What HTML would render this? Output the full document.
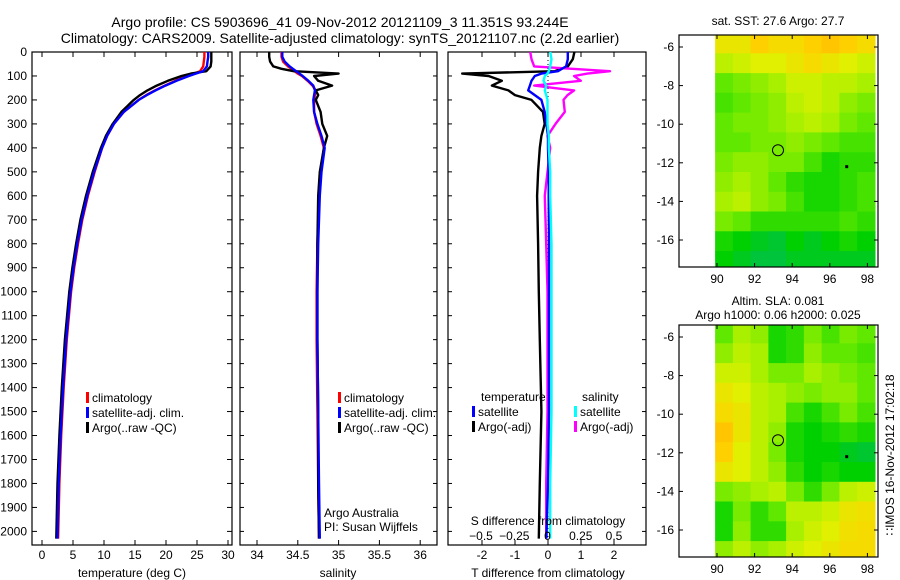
<!DOCTYPE html>
<html><head><meta charset="utf-8"><style>
html,body{margin:0;padding:0;background:#fff}
svg{display:block;font-family:"Liberation Sans",sans-serif}
text{font-size:12px;fill:#000}
</style></head><body>
<svg id="fig" width="900" height="580">
<text x="340" y="27" text-anchor="middle" style="font-size:14px">Argo profile: CS 5903696_41 09-Nov-2012 20121109_3 11.351S 93.244E</text>
<text x="340" y="43" text-anchor="middle" style="font-size:14px">Climatology: CARS2009. Satellite-adjusted climatology: synTS_20121107.nc (2.2d earlier)</text>
<g id="g"></g>
</svg>
<script>
// ---- data ----
const tDepth=[0,20,40,60,80,90,100,120,140,160,180,200,250,300,350,400,500,600,700,800,900,1000,1200,1400,1600,1800,2030];
const tClim=[26.2,26.2,26.1,26,25.5,24.5,23.5,21.5,19.8,18.2,16.8,15.6,13.2,11.6,10.5,9.7,8.5,7.4,6.5,5.8,5.2,4.7,4.0,3.5,3.1,2.8,2.6];
const tSat=[26.8,26.8,26.7,26.6,26,24.8,23.7,21.7,19.9,18.3,16.9,15.6,13.2,11.6,10.5,9.7,8.4,7.3,6.4,5.7,5.1,4.6,3.9,3.4,3.0,2.7,2.5];
const tArgo=[27.3,27.3,27.3,27.2,26.5,24.0,22.5,20.3,18.5,17.0,15.8,14.8,12.8,11.4,10.3,9.5,8.2,7.1,6.2,5.5,4.9,4.4,3.7,3.2,2.8,2.5,2.3];
const sDepth=[0,20,40,60,70,80,90,100,120,140,160,180,200,250,300,350,400,500,600,800,1000,1200,1500,1800,2030];
const sClim=[34.3,34.3,34.32,34.38,34.42,34.46,34.5,34.55,34.62,34.68,34.72,34.71,34.7,34.7,34.73,34.78,34.82,34.78,34.76,34.74,34.73,34.73,34.74,34.75,34.76];
const sSat=[34.31,34.31,34.34,34.4,34.44,34.48,34.52,34.56,34.63,34.69,34.71,34.7,34.69,34.7,34.74,34.79,34.83,34.79,34.77,34.75,34.74,34.74,34.75,34.76,34.77];
const sArgo=[34.15,34.15,34.16,34.2,34.3,34.45,35.0,34.7,34.75,34.92,34.72,34.75,34.72,34.78,34.8,34.86,34.82,34.77,34.75,34.74,34.74,34.74,34.75,34.75,34.76];
const dDepth=[0,30,60,80,90,100,120,140,160,180,200,250,300,350,400,500,600,800,1000,1200,1500,1800,2030];
const dTArgo=[0.8,0.75,0.6,0.2,-2.6,-1.8,-1.4,-1.7,-1.2,-1.0,-0.5,-0.15,-0.1,-0.2,-0.25,-0.3,-0.33,-0.3,-0.28,-0.25,-0.2,-0.25,-0.28];
const dTSat=[0.6,0.6,0.55,0.3,-0.2,-0.4,-0.5,-0.55,-0.6,-0.4,-0.2,-0.1,-0.05,0,0,0.02,0.02,0.03,0.03,0.03,0.03,0,-0.05];
const dSArgo=[-0.13,-0.12,-0.1,0.47,0.3,0.2,0.25,-0.1,0.2,0.15,0.12,0.13,0.06,0.0,0.02,0.0,-0.02,-0.01,0.0,0.0,0.0,-0.01,-0.01];
const dSCyan=[0.02,0.03,0.02,0.01,0.0,-0.02,-0.03,-0.01,-0.02,-0.01,0.0,0.0,0.0,0.01,0.01,0.02,0.02,0.03,0.03,0.03,0.03,0.02,0.02];
const sstGrid=[
[0.75,0.75,0.85,0.8,0.8,0.85,0.88,0.85,0.8],
[0.6,0.65,0.7,0.7,0.75,0.8,0.75,0.7,0.65],
[0.4,0.45,0.5,0.55,0.65,0.65,0.6,0.6,0.55],
[0.35,0.4,0.45,0.5,0.6,0.65,0.6,0.5,0.45],
[0.4,0.45,0.45,0.5,0.55,0.6,0.55,0.45,0.4],
[0.4,0.4,0.45,0.45,0.5,0.45,0.4,0.35,0.35],
[0.45,0.5,0.5,0.45,0.45,0.35,0.25,0.3,0.3],
[0.5,0.55,0.5,0.4,0.3,0.25,0.25,0.3,0.35],
[0.55,0.6,0.5,0.45,0.35,0.25,0.25,0.3,0.35],
[0.45,0.4,0.3,0.3,0.3,0.3,0.3,0.35,0.3],
[0.25,0.2,0.15,0.12,0.2,0.15,0.2,0.25,0.2],
[0.2,0.15,0.1,0.1,0.15,0.15,0.15,0.15,0.15]];
const slaGrid=[
[0.4,0.55,0.5,0.25,0.3,0.45,0.35,0.45,0.4],
[0.5,0.6,0.55,0.25,0.3,0.5,0.4,0.4,0.35],
[0.65,0.65,0.55,0.45,0.45,0.55,0.5,0.45,0.4],
[0.75,0.7,0.6,0.55,0.5,0.45,0.5,0.5,0.4],
[0.8,0.75,0.6,0.55,0.35,0.25,0.35,0.45,0.35],
[0.88,0.75,0.6,0.5,0.25,0.2,0.25,0.3,0.25],
[0.85,0.7,0.6,0.45,0.25,0.2,0.2,0.15,0.12],
[0.75,0.7,0.6,0.5,0.3,0.2,0.25,0.2,0.2],
[0.45,0.5,0.55,0.6,0.45,0.3,0.45,0.6,0.65],
[0.25,0.45,0.3,0.4,0.6,0.6,0.65,0.75,0.78],
[0.25,0.5,0.3,0.3,0.55,0.65,0.7,0.78,0.8],
[0.5,0.6,0.5,0.55,0.65,0.7,0.75,0.8,0.8]];
const depthTicks=[0,100,200,300,400,500,600,700,800,900,1000,1100,1200,1300,1400,1500,1600,1700,1800,1900,2000];
const tTicks=[0,5,10,15,20,25,30];
const sTicks=[34,34.5,35,35.5,36];
const dtTicks=[-2,-1,0,1,2];
const dsTicks=[-0.5,-0.25,0,0.25,0.5];
const lonTicks=[90,92,94,96,98];
const latTicks=[-6,-8,-10,-12,-14,-16];

const NS='http://www.w3.org/2000/svg';
const G=document.getElementById('g');
function mk(tag,a,parent){const e=document.createElementNS(NS,tag);for(const k in a)e.setAttribute(k,a[k]);(parent||G).appendChild(e);return e;}
function txt(x,y,s,anchor,parent){const e=mk('text',{x:x,y:y,'text-anchor':anchor||'start'},parent);e.textContent=s;return e;}
const yD=d=>52+d*0.2397;
const xT=v=>42+v*6.2, xS=v=>257+(v-34)*81.6, xDT=v=>548+v*33, xDS=v=>547.5+v*133;
const TOP=52,BOT=545;
function frame(x0,x1,name){const r=mk('rect',{x:x0,y:TOP,width:x1-x0,height:BOT-TOP,fill:'none',stroke:'#000','stroke-width':1.2});

}
function line(depths,vals,xf,color,name,w){const p=depths.map((d,i)=>xf(vals[i]).toFixed(1)+','+yD(d).toFixed(1)).join(' ');
const e=mk('polyline',{points:p,fill:'none',stroke:color,'stroke-width':w||2.4,'stroke-linejoin':'round'});

}
function xticks(ticks,xf,lblY){ticks.forEach(t=>{const x=xf(t);mk('line',{x1:x,x2:x,y1:BOT,y2:BOT-5,stroke:'#000'});mk('line',{x1:x,x2:x,y1:TOP,y2:TOP+5,stroke:'#000'});
const l=txt(x,lblY,String(t),'middle');

});}
function legendItem(x,y,color,label){mk('rect',{x:x,y:y-10,width:3,height:11,fill:color});const l=txt(x+6,y,label);

}

// Panel 1
frame(32,232,'temperature-panel');
depthTicks.forEach(d=>{const y=yD(d);mk('line',{x1:32,x2:37,y1:y,y2:y,stroke:'#000'});mk('line',{x1:227,x2:232,y1:y,y2:y,stroke:'#000'});
const l=txt(27,y+4,String(d),'end');

});
xticks(tTicks,xT,559);
line(tDepth,tClim,xT,'#f00','temp-climatology-line');
line(tDepth,tArgo,xT,'#000','temp-argo-line');
line(tDepth,tSat,xT,'#00f','temp-satellite-line');
const xl1=txt(132,577,'temperature (deg C)','middle');


legendItem(86,402,'#f00','climatology');legendItem(86,417,'#00f','satellite-adj. clim.');legendItem(86,432,'#000','Argo(..raw -QC)');

// Panel 2
frame(240,437,'salinity-panel');
depthTicks.forEach(d=>{const y=yD(d);mk('line',{x1:240,x2:244,y1:y,y2:y,stroke:'#000'});mk('line',{x1:433,x2:437,y1:y,y2:y,stroke:'#000'});});
xticks(sTicks,xS,559);
line(sDepth,sClim,xS,'#f00','sal-climatology-line');
line(sDepth,sArgo,xS,'#000','sal-argo-line');
line(sDepth,sSat,xS,'#00f','sal-satellite-line');
const xl2=txt(338,577,'salinity','middle');


legendItem(338,402,'#f00','climatology');legendItem(338,417,'#00f','satellite-adj. clim.');legendItem(338,432,'#000','Argo(..raw -QC)');
const a1=txt(324,517,'Argo Australia');
const a2=txt(324,531,'PI: Susan Wijffels');

// Panel 3
frame(448,646,'difference-panel');
depthTicks.forEach(d=>{const y=yD(d);mk('line',{x1:448,x2:452,y1:y,y2:y,stroke:'#000'});mk('line',{x1:642,x2:646,y1:y,y2:y,stroke:'#000'});});
xticks(dtTicks,xDT,559);
mk('line',{x1:548,x2:548,y1:TOP,y2:BOT,stroke:'#000','stroke-dasharray':'1,3'});
line(dDepth,dTArgo,xDT,'#000','tdiff-argo-line');
line(dDepth,dSArgo,xDS,'#f0f','sdiff-argo-line');
line(dDepth,dTSat,xDT,'#00f','tdiff-satellite-line');
line(dDepth,dSCyan,xDS,'#0ff','sdiff-satellite-line');
dsTicks.forEach(t=>{const l=txt(xDS(t),540,t===0?'0':(t<0?'\u2212'+(-t):String(t)),'middle');

});
const sdl=txt(548,525,'S difference from climatology','middle');
const tdl=txt(548,577,'T difference from climatology','middle');
const lt=txt(481,401,'temperature');
const ls=txt(582,401,'salinity');
legendItem(472,416,'#00f','satellite');legendItem(472,431,'#000','Argo(-adj)');
legendItem(574,416,'#0ff','satellite');legendItem(574,431,'#f0f','Argo(-adj)');

// Maps
const stops=[[0,[0,184,120]],[0.2,[0,208,0]],[0.4,[96,232,0]],[0.55,[168,240,0]],[0.7,[224,240,0]],[0.85,[255,208,0]],[1,[255,152,0]]];
function cmap(v){for(let i=1;i<stops.length;i++){if(v<=stops[i][0]){const a=stops[i-1],b=stops[i],f=(v-a[0])/(b[0]-a[0]);return 'rgb('+a[1].map((c,j)=>Math.round(c+(b[1][j]-c)*f)).join(',')+')';}}return 'rgb(255,152,0)';}
function map(top,bot,grid,name,title1,title2){
 const L=679,R=878;const xl=v=>717+(v-90)*18.8;const yl=v=>top+12+(-6-v)*19.3;
 const cg=mk('g',{});
 const lon0=89.9,lon1=98.4,lat0=-5.3,lat1=-17.6;const nc=grid[0].length,nr=grid.length;
 grid.forEach((row,r)=>row.forEach((v,c)=>{const x0=xl(lon0+(lon1-lon0)*c/nc),x1=xl(lon0+(lon1-lon0)*(c+1)/nc);
 const y0=yl(lat0+(lat1-lat0)*r/nr),y1=yl(lat0+(lat1-lat0)*(r+1)/nr);
 const e=mk('rect',{x:x0.toFixed(1),y:Math.max(top,y0).toFixed(1),width:(x1-x0+0.5).toFixed(1),height:(Math.min(bot,y1)-Math.max(top,y0)+0.5).toFixed(1),fill:cmap(v)},cg);
 
 }));
 const fr=mk('rect',{x:L,y:top,width:R-L,height:bot-top,fill:'none',stroke:'#000','stroke-width':1.2});
 
 
 lonTicks.forEach(t=>{const x=xl(t);mk('line',{x1:x,x2:x,y1:bot,y2:bot-4,stroke:'#000'});mk('line',{x1:x,x2:x,y1:top,y2:top+4,stroke:'#000'});
  const l=txt(x,bot+16,String(t),'middle');});
 latTicks.forEach(t=>{const y=yl(t);mk('line',{x1:L,x2:L+4,y1:y,y2:y,stroke:'#000'});mk('line',{x1:R-4,x2:R,y1:y,y2:y,stroke:'#000'});
  const l=txt(L-5,y+4,String(t),'end');});
 const c=mk('circle',{cx:xl(93.244),cy:yl(-11.351),r:5.5,fill:'none',stroke:'#000'});
 
 mk('rect',{x:xl(96.9)-1.5,y:yl(-12.2)-1.5,width:3,height:3,fill:'#000'});
 const t1=txt(778,title2?top-20:top-10,title1,'middle');
 if(title2){const t2=txt(778,top-6,title2,'middle');}
}
map(35,267,sstGrid,'sst-map','sat. SST: 27.6  Argo: 27.7');
map(325,557,slaGrid,'sla-map','Altim. SLA: 0.081','Argo h1000: 0.06 h2000: 0.025');
const im=txt(0,0,'\u2237IMOS 16-Nov-2012 17:02:18','middle');
im.setAttribute('transform','translate(894,455) rotate(-90)');


</script>
</body></html>
